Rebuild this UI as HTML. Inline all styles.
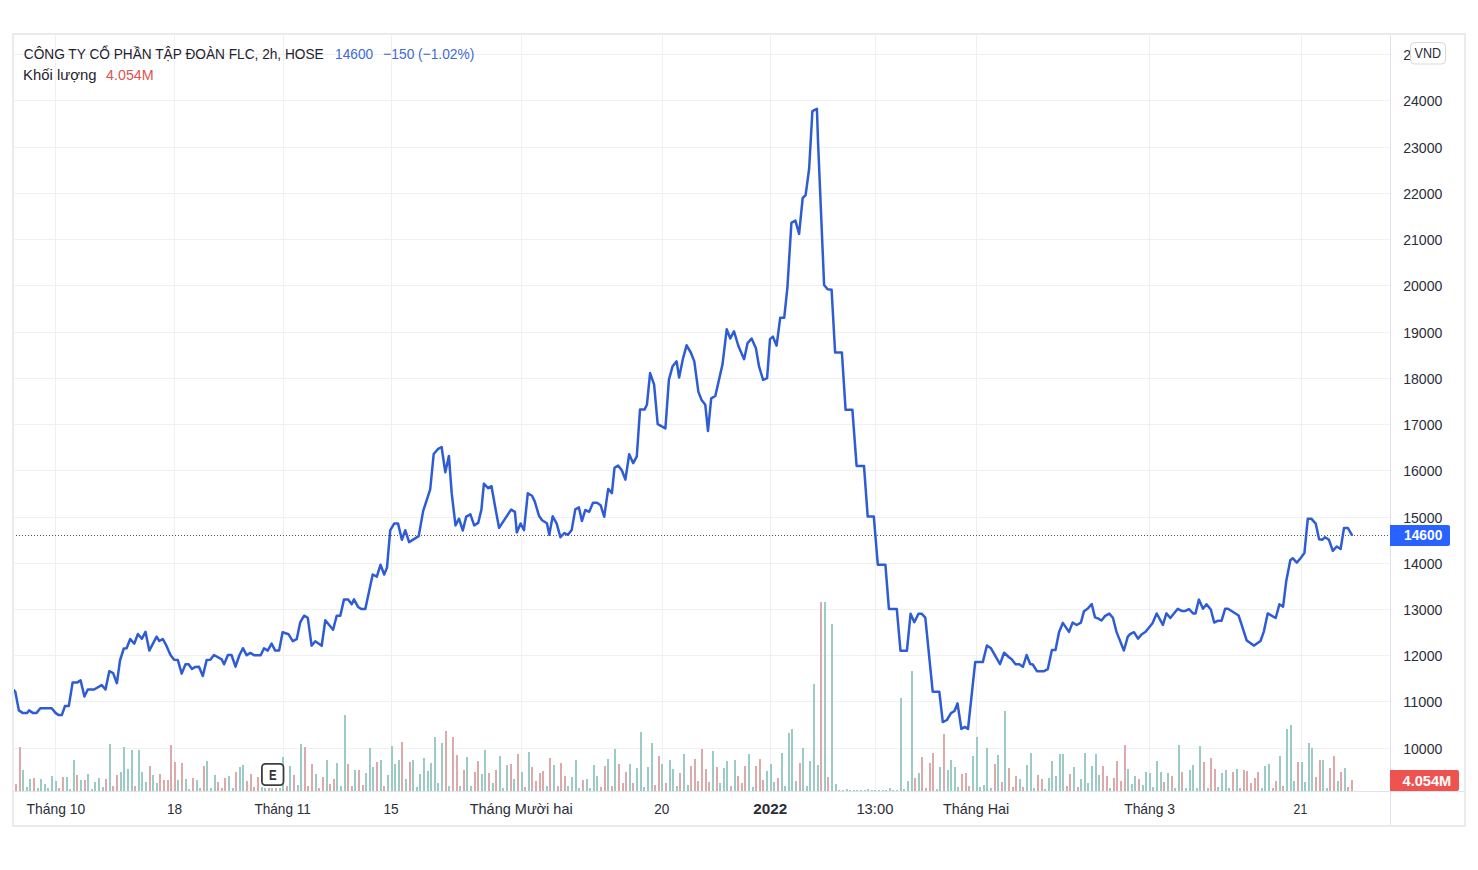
<!DOCTYPE html>
<html><head><meta charset="utf-8"><title>FLC chart</title><style>
html,body{margin:0;padding:0;background:#fff;width:1478px;height:870px;overflow:hidden}
svg{position:absolute;left:0;top:0;display:block}
text{font-family:"Liberation Sans","DejaVu Sans",sans-serif}
</style></head><body>
<svg width="1478" height="870" viewBox="0 0 1478 870">
<rect x="0" y="0" width="1478" height="870" fill="#fff"/>
<path d="M14 54.5H1390 M14 100.5H1390 M14 147.5H1390 M14 193.5H1390 M14 239.5H1390 M14 285.5H1390 M14 332.5H1390 M14 378.5H1390 M14 424.5H1390 M14 470.5H1390 M14 517.5H1390 M14 563.5H1390 M14 609.5H1390 M14 655.5H1390 M14 701.5H1390 M14 748.5H1390 M55.5 35V791 M174.5 35V791 M283.5 35V791 M391.5 35V791 M521.5 35V791 M662.5 35V791 M770.5 35V791 M875.5 35V791 M976.5 35V791 M1149.5 35V791 M1301.5 35V791" stroke="#f0f0f2" stroke-width="1" fill="none"/>
<path d="M22 770h2v21h-2zM26 787h2v4h-2zM29 779h2v12h-2zM37 788h2v3h-2zM40 779h2v12h-2zM44 784h2v7h-2zM47 788h2v3h-2zM51 776h2v15h-2zM55 781h2v10h-2zM66 777h2v14h-2zM69 789h2v2h-2zM73 760h2v31h-2zM80 780h2v11h-2zM87 774h2v17h-2zM91 789h2v2h-2zM94 782h2v9h-2zM98 778h2v13h-2zM102 787h2v4h-2zM109 744h2v47h-2zM120 772h2v19h-2zM123 747h2v44h-2zM127 769h2v22h-2zM131 750h2v41h-2zM138 750h2v41h-2zM141 772h2v19h-2zM145 782h2v9h-2zM152 775h2v16h-2zM156 783h2v8h-2zM177 780h2v11h-2zM185 779h2v12h-2zM188 789h2v2h-2zM196 780h2v11h-2zM199 788h2v3h-2zM206 761h2v30h-2zM210 788h2v3h-2zM214 775h2v16h-2zM228 776h2v15h-2zM232 788h2v3h-2zM239 767h2v24h-2zM242 765h2v26h-2zM261 787h2v4h-2zM264 788h2v3h-2zM271 788h2v3h-2zM279 788h2v3h-2zM282 757h2v34h-2zM289 766h2v25h-2zM297 785h2v6h-2zM300 744h2v47h-2zM315 774h2v17h-2zM326 760h2v31h-2zM336 763h2v28h-2zM340 786h2v5h-2zM344 715h2v76h-2zM354 770h2v21h-2zM365 773h2v18h-2zM369 748h2v43h-2zM372 767h2v24h-2zM380 760h2v31h-2zM387 775h2v16h-2zM391 746h2v45h-2zM394 764h2v27h-2zM398 760h2v31h-2zM405 779h2v12h-2zM412 760h2v31h-2zM416 787h2v4h-2zM419 774h2v17h-2zM423 758h2v33h-2zM427 771h2v20h-2zM430 763h2v28h-2zM434 737h2v54h-2zM437 783h2v8h-2zM441 743h2v48h-2zM448 786h2v5h-2zM459 786h2v5h-2zM466 757h2v34h-2zM470 786h2v5h-2zM481 774h2v17h-2zM484 750h2v41h-2zM492 783h2v8h-2zM499 756h2v35h-2zM502 788h2v3h-2zM506 765h2v26h-2zM513 779h2v12h-2zM521 772h2v19h-2zM528 752h2v39h-2zM546 786h2v5h-2zM553 765h2v26h-2zM567 786h2v5h-2zM571 777h2v14h-2zM575 760h2v31h-2zM578 788h2v3h-2zM586 779h2v12h-2zM589 788h2v3h-2zM593 765h2v26h-2zM596 776h2v15h-2zM607 759h2v32h-2zM614 749h2v42h-2zM629 764h2v27h-2zM636 768h2v23h-2zM640 732h2v59h-2zM643 787h2v4h-2zM647 767h2v24h-2zM651 743h2v48h-2zM661 764h2v27h-2zM669 760h2v31h-2zM672 769h2v22h-2zM676 786h2v5h-2zM683 754h2v37h-2zM687 785h2v6h-2zM712 751h2v40h-2zM719 783h2v8h-2zM723 768h2v23h-2zM726 761h2v30h-2zM734 760h2v31h-2zM748 754h2v37h-2zM752 787h2v4h-2zM766 771h2v20h-2zM770 764h2v27h-2zM773 782h2v9h-2zM781 753h2v38h-2zM784 786h2v5h-2zM788 733h2v58h-2zM791 729h2v62h-2zM795 781h2v10h-2zM802 748h2v43h-2zM806 786h2v5h-2zM809 761h2v30h-2zM813 684h2v107h-2zM817 765h2v26h-2zM824 602h2v189h-2zM831 624h2v167h-2zM835 784h2v7h-2zM838 790h2v1h-2zM842 790h2v1h-2zM846 789h2v2h-2zM849 790h2v1h-2zM853 790h2v1h-2zM856 790h2v1h-2zM860 790h2v1h-2zM864 790h2v1h-2zM867 789h2v2h-2zM871 790h2v1h-2zM874 790h2v1h-2zM878 790h2v1h-2zM882 790h2v1h-2zM885 790h2v1h-2zM889 788h2v3h-2zM892 790h2v1h-2zM896 790h2v1h-2zM900 698h2v93h-2zM903 789h2v2h-2zM907 781h2v10h-2zM911 671h2v120h-2zM918 773h2v18h-2zM936 789h2v2h-2zM939 767h2v24h-2zM947 770h2v21h-2zM950 760h2v31h-2zM954 767h2v24h-2zM957 787h2v4h-2zM972 756h2v35h-2zM976 737h2v54h-2zM979 787h2v4h-2zM983 785h2v6h-2zM986 748h2v43h-2zM990 788h2v3h-2zM997 755h2v36h-2zM1004 711h2v80h-2zM1019 779h2v12h-2zM1026 765h2v26h-2zM1030 753h2v38h-2zM1033 788h2v3h-2zM1044 789h2v2h-2zM1048 778h2v13h-2zM1051 761h2v30h-2zM1055 776h2v15h-2zM1059 754h2v37h-2zM1062 754h2v37h-2zM1073 767h2v24h-2zM1080 779h2v12h-2zM1084 753h2v38h-2zM1087 783h2v8h-2zM1091 766h2v25h-2zM1095 754h2v37h-2zM1098 775h2v16h-2zM1109 788h2v3h-2zM1127 769h2v22h-2zM1131 784h2v7h-2zM1134 776h2v15h-2zM1142 785h2v6h-2zM1145 772h2v19h-2zM1149 773h2v18h-2zM1152 787h2v4h-2zM1156 761h2v30h-2zM1160 772h2v19h-2zM1167 773h2v18h-2zM1174 788h2v3h-2zM1178 745h2v46h-2zM1185 788h2v3h-2zM1189 770h2v21h-2zM1192 765h2v26h-2zM1196 788h2v3h-2zM1199 746h2v45h-2zM1207 788h2v3h-2zM1217 787h2v4h-2zM1221 773h2v18h-2zM1225 770h2v21h-2zM1228 788h2v3h-2zM1236 769h2v22h-2zM1261 788h2v3h-2zM1264 766h2v25h-2zM1268 764h2v27h-2zM1279 756h2v35h-2zM1286 729h2v62h-2zM1290 725h2v66h-2zM1293 781h2v10h-2zM1301 762h2v29h-2zM1304 782h2v9h-2zM1308 743h2v48h-2zM1311 748h2v43h-2zM1322 760h2v31h-2zM1326 788h2v3h-2zM1337 781h2v10h-2zM1344 768h2v23h-2z" fill="#9ccac5"/>
<path d="M15 784h2v7h-2zM19 747h2v44h-2zM33 778h2v13h-2zM58 788h2v3h-2zM62 777h2v14h-2zM76 775h2v16h-2zM84 780h2v11h-2zM105 779h2v12h-2zM112 786h2v5h-2zM116 775h2v16h-2zM134 786h2v5h-2zM149 766h2v25h-2zM159 774h2v17h-2zM163 780h2v11h-2zM167 780h2v11h-2zM170 745h2v46h-2zM174 762h2v29h-2zM181 763h2v28h-2zM192 778h2v13h-2zM203 766h2v25h-2zM217 782h2v9h-2zM221 788h2v3h-2zM224 778h2v13h-2zM235 772h2v19h-2zM246 781h2v10h-2zM250 774h2v17h-2zM253 787h2v4h-2zM257 777h2v14h-2zM268 788h2v3h-2zM275 788h2v3h-2zM286 786h2v5h-2zM293 775h2v16h-2zM304 747h2v44h-2zM307 786h2v5h-2zM311 764h2v27h-2zM318 788h2v3h-2zM322 777h2v14h-2zM329 784h2v7h-2zM333 779h2v12h-2zM347 764h2v27h-2zM351 786h2v5h-2zM358 770h2v21h-2zM362 785h2v6h-2zM376 762h2v29h-2zM383 786h2v5h-2zM401 742h2v49h-2zM409 762h2v29h-2zM445 731h2v60h-2zM452 737h2v54h-2zM456 755h2v36h-2zM463 770h2v21h-2zM474 772h2v19h-2zM477 761h2v30h-2zM488 773h2v18h-2zM495 770h2v21h-2zM510 764h2v27h-2zM517 754h2v37h-2zM524 787h2v4h-2zM531 767h2v24h-2zM535 781h2v10h-2zM539 773h2v18h-2zM542 771h2v20h-2zM549 758h2v33h-2zM557 786h2v5h-2zM560 763h2v28h-2zM564 776h2v15h-2zM582 780h2v11h-2zM600 787h2v4h-2zM604 766h2v25h-2zM611 786h2v5h-2zM618 764h2v27h-2zM622 783h2v8h-2zM625 772h2v19h-2zM632 783h2v8h-2zM654 785h2v6h-2zM658 756h2v35h-2zM665 783h2v8h-2zM679 773h2v18h-2zM690 766h2v25h-2zM694 759h2v32h-2zM697 781h2v10h-2zM701 749h2v42h-2zM705 769h2v22h-2zM708 782h2v9h-2zM716 767h2v24h-2zM730 786h2v5h-2zM737 776h2v15h-2zM741 783h2v8h-2zM744 766h2v25h-2zM755 766h2v25h-2zM759 759h2v32h-2zM762 780h2v11h-2zM777 778h2v13h-2zM799 763h2v28h-2zM820 602h2v189h-2zM827 777h2v14h-2zM914 778h2v13h-2zM921 757h2v34h-2zM925 788h2v3h-2zM929 763h2v28h-2zM932 753h2v38h-2zM943 734h2v57h-2zM961 774h2v17h-2zM965 773h2v18h-2zM968 786h2v5h-2zM994 764h2v27h-2zM1001 782h2v9h-2zM1008 768h2v23h-2zM1012 787h2v4h-2zM1015 776h2v15h-2zM1022 787h2v4h-2zM1037 775h2v16h-2zM1041 779h2v12h-2zM1066 786h2v5h-2zM1069 774h2v17h-2zM1077 787h2v4h-2zM1102 766h2v25h-2zM1106 776h2v15h-2zM1113 778h2v13h-2zM1116 761h2v30h-2zM1120 781h2v10h-2zM1124 745h2v46h-2zM1138 779h2v12h-2zM1163 782h2v9h-2zM1171 776h2v15h-2zM1181 772h2v19h-2zM1203 762h2v29h-2zM1210 758h2v33h-2zM1214 769h2v22h-2zM1232 772h2v19h-2zM1239 788h2v3h-2zM1243 770h2v21h-2zM1246 771h2v20h-2zM1250 783h2v8h-2zM1254 778h2v13h-2zM1257 772h2v19h-2zM1272 788h2v3h-2zM1275 781h2v10h-2zM1282 786h2v5h-2zM1297 762h2v29h-2zM1315 777h2v14h-2zM1319 760h2v31h-2zM1329 768h2v23h-2zM1333 756h2v35h-2zM1340 772h2v19h-2zM1347 787h2v4h-2zM1351 780h2v11h-2z" fill="#dcaaab"/>
<rect x="261.9" y="763.9" width="21.6" height="21.2" rx="3.5" ry="3.5" fill="#fff" stroke="#3e3e42" stroke-width="1.8"/>
<text x="268.9" y="780" font-size="14.8" font-weight="bold" fill="#333337" textLength="7.6" lengthAdjust="spacingAndGlyphs">E</text>
<path d="M13 535.5H1390" stroke="#555" stroke-width="1" stroke-dasharray="1 2" fill="none"/>
<polyline points="13.8,690.2 15.3,691.8 18.9,710.4 22.6,712.9 27.1,712.9 29.0,710.4 32.8,712.9 36.6,712.9 40.3,708.3 51.7,708.3 55.5,712.9 58.7,715.1 61.8,715.1 65.0,706.0 68.8,706.0 72.6,682.6 77.0,682.6 80.6,680.4 84.4,696.5 87.8,689.5 94.1,689.5 101.7,685.1 105.5,689.5 109.3,671.2 113.1,673.1 116.9,683.2 120.0,660.5 123.8,648.5 126.6,648.3 130.2,639.0 134.3,643.6 137.9,634.0 141.8,638.8 145.5,631.9 149.3,650.6 156.6,636.7 159.3,641.0 162.8,639.0 166.4,645.7 170.5,655.0 174.1,659.7 177.8,659.9 181.7,673.6 185.5,664.3 188.6,664.3 192.0,669.0 195.3,666.9 199.0,666.7 202.8,676.0 206.7,659.9 210.3,659.7 214.0,655.0 221.7,659.4 224.1,664.3 227.9,655.0 231.5,655.0 235.5,666.7 239.3,655.5 242.9,648.2 246.7,655.3 250.3,652.9 254.5,655.3 260.7,655.3 264.0,648.3 267.7,650.6 271.6,643.6 275.2,650.6 279.1,650.6 282.6,632.2 288.6,634.3 292.8,641.2 296.7,639.2 300.2,622.4 304.1,615.7 307.8,617.8 311.6,645.7 315.3,641.2 321.7,645.7 325.3,620.3 333.1,629.7 336.7,615.7 340.3,615.7 344.0,599.4 348.1,599.4 351.7,604.3 354.0,599.4 357.9,606.7 361.2,609.0 365.3,609.0 372.7,574.5 376.8,576.6 380.5,564.8 384.2,574.5 387.0,567.6 390.2,530.3 394.3,523.4 398.0,523.4 401.9,539.7 405.3,530.3 409.1,542.1 418.7,536.1 423.2,510.9 430.2,489.4 433.7,454.0 437.8,449.2 441.6,447.0 445.3,472.3 448.9,455.9 451.7,493.2 455.5,525.4 459.0,518.7 462.8,530.5 466.2,516.6 470.4,514.4 474.2,525.4 478.2,522.9 481.4,509.6 483.9,483.7 488.1,488.1 491.5,486.2 495.3,507.7 499.1,527.9 511.1,509.6 514.9,511.9 516.8,532.4 520.6,523.5 524.0,530.1 527.8,493.2 532.0,495.7 534.8,501.6 539.1,516.1 542.1,520.3 546.9,523.3 549.3,534.8 552.7,516.3 556.6,523.3 560.4,537.2 564.4,533.0 568.0,534.8 571.7,529.9 575.3,509.4 578.9,507.4 581.9,521.1 585.3,510.0 589.2,511.8 593.0,502.8 597.0,502.8 600.6,505.2 604.2,516.7 608.2,488.9 611.9,493.1 614.5,467.8 618.1,465.6 621.8,470.2 625.4,479.6 629.2,454.2 633.2,463.2 636.8,456.3 640.0,409.6 644.5,409.6 646.9,404.8 650.1,373.1 654.1,384.7 657.7,424.1 665.4,428.4 668.9,379.9 672.6,366.2 676.6,361.4 679.1,377.5 683.1,358.1 686.6,345.3 690.8,352.5 694.3,361.4 698.4,391.9 701.6,400.0 705.3,404.8 708.0,431.0 711.2,398.4 715.3,396.0 722.5,364.4 726.7,329.3 730.3,338.5 734.0,331.3 738.4,346.0 744.1,359.2 747.6,343.1 751.6,338.5 755.9,348.3 759.1,366.7 763.1,379.9 767.1,378.2 770.0,339.1 772.9,336.6 776.6,345.7 780.2,317.8 784.2,317.8 787.4,287.6 791.4,222.9 795.4,220.6 799.1,233.8 802.7,198.0 805.6,195.1 809.1,169.0 812.4,111.2 816.9,108.8 818.1,143.3 824.1,285.0 827.6,289.3 831.6,289.7 835.1,352.5 841.9,352.5 845.6,409.8 852.4,409.8 856.6,465.9 864.0,465.9 867.7,516.6 873.8,516.6 877.8,564.7 885.4,564.7 888.9,608.9 896.8,608.9 900.5,650.8 906.9,650.8 910.6,613.7 914.3,622.3 918.5,613.7 921.6,613.7 925.3,617.7 932.7,691.7 939.3,691.7 942.8,722.1 946.9,720.0 951.0,713.1 954.5,711.0 957.5,703.4 961.4,729.0 964.8,726.9 968.0,729.0 975.2,662.1 982.8,662.1 986.9,645.5 991.0,648.3 1000.0,664.1 1004.1,652.8 1009.0,657.2 1011.7,659.3 1015.5,664.2 1019.3,664.3 1022.9,666.8 1026.6,655.0 1030.2,664.0 1032.8,664.5 1036.9,671.2 1044.1,671.2 1047.8,669.1 1051.9,650.0 1055.5,650.0 1059.1,631.9 1062.8,622.9 1069.0,631.9 1072.6,622.6 1076.7,625.0 1080.9,622.6 1084.0,611.2 1087.6,608.8 1091.7,604.0 1095.0,617.4 1097.9,618.4 1101.5,620.5 1105.2,615.9 1109.3,613.6 1112.9,617.7 1116.5,631.9 1123.9,650.5 1127.8,636.7 1130.1,634.2 1134.0,632.2 1138.0,638.6 1141.9,634.2 1145.6,631.8 1152.5,623.3 1156.7,613.5 1162.9,624.9 1166.4,613.4 1170.3,618.0 1177.8,608.8 1181.7,610.9 1185.4,610.9 1189.0,609.1 1193.1,613.4 1195.5,613.4 1198.9,599.6 1203.0,608.7 1206.5,604.2 1210.8,609.5 1214.2,622.5 1218.2,620.7 1221.6,620.7 1225.1,608.8 1228.0,608.8 1238.6,615.5 1241.5,624.4 1246.7,640.5 1254.1,645.6 1260.5,641.0 1263.9,631.3 1267.7,613.4 1275.7,618.0 1279.4,604.3 1283.1,606.6 1286.3,580.7 1290.3,560.2 1292.7,558.2 1296.8,562.6 1300.5,558.2 1304.4,553.1 1307.8,518.7 1311.3,518.7 1315.7,523.6 1319.1,539.2 1322.5,539.7 1325.1,537.2 1328.9,539.7 1332.8,550.9 1336.7,546.5 1340.6,549.0 1344.0,528.0 1347.9,528.0 1351.8,534.8" fill="none" stroke="#2e5cd4" stroke-width="2.5" stroke-linejoin="round" stroke-linecap="round"/>
<path d="M1390.5 35V825 M14 791.5H1464" stroke="#e0e3eb" stroke-width="1" fill="none"/>
<rect x="13" y="34" width="1452" height="792" fill="none" stroke="#ebebee" stroke-width="2"/>
<text x="1403.2" y="105.5" font-size="15" fill="#2a2e39" textLength="39.2" lengthAdjust="spacingAndGlyphs">24000</text>
<text x="1403.2" y="152.5" font-size="15" fill="#2a2e39" textLength="39.2" lengthAdjust="spacingAndGlyphs">23000</text>
<text x="1403.2" y="198.5" font-size="15" fill="#2a2e39" textLength="39.2" lengthAdjust="spacingAndGlyphs">22000</text>
<text x="1403.2" y="244.5" font-size="15" fill="#2a2e39" textLength="39.2" lengthAdjust="spacingAndGlyphs">21000</text>
<text x="1403.2" y="290.5" font-size="15" fill="#2a2e39" textLength="39.2" lengthAdjust="spacingAndGlyphs">20000</text>
<text x="1403.2" y="337.5" font-size="15" fill="#2a2e39" textLength="39.2" lengthAdjust="spacingAndGlyphs">19000</text>
<text x="1403.2" y="383.5" font-size="15" fill="#2a2e39" textLength="39.2" lengthAdjust="spacingAndGlyphs">18000</text>
<text x="1403.2" y="429.5" font-size="15" fill="#2a2e39" textLength="39.2" lengthAdjust="spacingAndGlyphs">17000</text>
<text x="1403.2" y="475.5" font-size="15" fill="#2a2e39" textLength="39.2" lengthAdjust="spacingAndGlyphs">16000</text>
<text x="1403.2" y="522.5" font-size="15" fill="#2a2e39" textLength="39.2" lengthAdjust="spacingAndGlyphs">15000</text>
<text x="1403.2" y="568.5" font-size="15" fill="#2a2e39" textLength="39.2" lengthAdjust="spacingAndGlyphs">14000</text>
<text x="1403.2" y="614.5" font-size="15" fill="#2a2e39" textLength="39.2" lengthAdjust="spacingAndGlyphs">13000</text>
<text x="1403.2" y="660.5" font-size="15" fill="#2a2e39" textLength="39.2" lengthAdjust="spacingAndGlyphs">12000</text>
<text x="1403.2" y="706.5" font-size="15" fill="#2a2e39" textLength="39.2" lengthAdjust="spacingAndGlyphs">11000</text>
<text x="1403.2" y="753.5" font-size="15" fill="#2a2e39" textLength="39.2" lengthAdjust="spacingAndGlyphs">10000</text>
<text x="1403.2" y="59.5" font-size="15" fill="#2a2e39" textLength="7.8" lengthAdjust="spacingAndGlyphs">2</text>
<rect x="1410.5" y="42.5" width="35" height="21.5" rx="4" ry="4" fill="#fff" stroke="#d6d8de" stroke-width="1"/>
<text x="1414.6" y="58" font-size="15" fill="#2a2e39" textLength="26.5" lengthAdjust="spacingAndGlyphs">VND</text>
<path d="M1390 525H1448a2 2 0 0 1 2 2V544a2 2 0 0 1 -2 2H1390Z" fill="#2962ff"/>
<text x="1404.1" y="540.4" font-size="14.5" font-weight="bold" fill="#fff" textLength="38.2" lengthAdjust="spacingAndGlyphs">14600</text>
<path d="M1390 770H1457a2 2 0 0 1 2 2V789a2 2 0 0 1 -2 2H1390Z" fill="#ef5350"/>
<text x="1402.5" y="785.7" font-size="15" font-weight="bold" fill="#fff" textLength="48.8" lengthAdjust="spacingAndGlyphs">4.054M</text>
<text x="26.6" y="814" font-size="15" fill="#2a2e39" textLength="58.7" lengthAdjust="spacingAndGlyphs">Tháng 10</text>
<text x="166.9" y="814" font-size="15" fill="#2a2e39" textLength="15.2" lengthAdjust="spacingAndGlyphs">18</text>
<text x="254.4" y="814" font-size="15" fill="#2a2e39" textLength="56.5" lengthAdjust="spacingAndGlyphs">Tháng 11</text>
<text x="383.4" y="814" font-size="15" fill="#2a2e39" textLength="15.2" lengthAdjust="spacingAndGlyphs">15</text>
<text x="469.7" y="814" font-size="15" fill="#2a2e39" textLength="103.0" lengthAdjust="spacingAndGlyphs">Tháng Mười hai</text>
<text x="654.3" y="814" font-size="15" fill="#2a2e39" textLength="15.1" lengthAdjust="spacingAndGlyphs">20</text>
<text x="753.3" y="814" font-size="15" fill="#2a2e39" textLength="34.0" lengthAdjust="spacingAndGlyphs" font-weight="bold">2022</text>
<text x="856.4" y="814" font-size="15" fill="#2a2e39" textLength="37.0" lengthAdjust="spacingAndGlyphs">13:00</text>
<text x="943.1" y="814" font-size="15" fill="#2a2e39" textLength="66.2" lengthAdjust="spacingAndGlyphs">Tháng Hai</text>
<text x="1124.2" y="814" font-size="15" fill="#2a2e39" textLength="50.9" lengthAdjust="spacingAndGlyphs">Tháng 3</text>
<text x="1293.6" y="814" font-size="15" fill="#2a2e39" textLength="13.6" lengthAdjust="spacingAndGlyphs">21</text>
<text x="23.8" y="58.6" font-size="15" fill="#1e222d" textLength="299.9" lengthAdjust="spacingAndGlyphs">CÔNG TY CỔ PHẦN TẬP ĐOÀN FLC, 2h, HOSE</text>
<text x="335.1" y="58.6" font-size="15" fill="#3d6ad6" textLength="38.0" lengthAdjust="spacingAndGlyphs">14600</text>
<text x="383.3" y="58.6" font-size="15" fill="#3d6ad6" textLength="91.0" lengthAdjust="spacingAndGlyphs">−150 (−1.02%)</text>
<text x="23.1" y="79.5" font-size="15" fill="#1e222d" textLength="73.5" lengthAdjust="spacingAndGlyphs">Khối lượng</text>
<text x="106.1" y="79.5" font-size="15" fill="#e0534f" textLength="47.6" lengthAdjust="spacingAndGlyphs">4.054M</text>
</svg>
</body></html>
